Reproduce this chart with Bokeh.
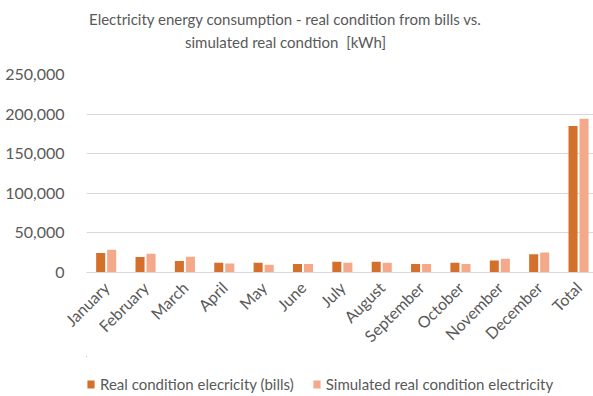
import math
from bokeh.plotting import figure
from bokeh.layouts import column
from bokeh.models import (ColumnDataSource, FixedTicker, NumeralTickFormatter, Legend, LegendItem,
                          Range1d, Label)
from bokeh.transform import dodge
from bokeh.embed import file_html
from bokeh.resources import INLINE

categories = ["January", "February", "March", "April", "May", "June", "July",
              "August", "September", "October", "November", "December", "Total"]
real_bills = [24500, 19500, 14400, 12200, 12200, 10600, 13500, 13500, 10600, 12200, 15200, 23200, 185000]
simulated = [28700, 23600, 19800, 11400, 9700, 10600, 12200, 12200, 10600, 10600, 17300, 25300, 194000]
y_ticks = [0, 50000, 100000, 150000, 200000, 250000]
title_lines = ["Electricity energy consumption - real condition from bills vs.",
               "simulated real condtion\u00a0 [kWh]"]
series_names = ["Real condition elecricity (bills)", "Simulated real condition electricity"]

FONT = "Lato"
GRAY = "#595959"
C_REAL = "#D5702C"
C_SIM = "#F3A98A"
W = 593
LEFT = 86

xs = list(range(len(categories)))
src = ColumnDataSource(dict(x=xs, real=real_bills, sim=simulated))

# ---- title strip (frame is aligned with the chart frame: canvas x 86..593) ----
TH = 56
tf = figure(width=W, height=TH, output_backend="svg", toolbar_location=None,
            x_range=Range1d(LEFT, W), y_range=Range1d(TH, 0),
            x_axis_type=None, y_axis_type=None, min_border=0)
tf.outline_line_color = None
tf.grid.visible = False
for txt, yy in zip(title_lines, [18, 41]):
    tf.add_layout(Label(x=285, y=yy, text=txt, text_align="center", text_baseline="middle",
                        text_font=FONT, text_font_size="15px", text_color=GRAY))

# ---- main chart ----
p = figure(width=W, height=300, output_backend="svg", toolbar_location=None,
           x_range=Range1d(-0.5, len(categories) - 0.5 - 0.12), y_range=Range1d(0, 250000),
           min_border_left=LEFT, min_border_right=0, min_border_top=18, min_border_bottom=84)
p.title = None

r1 = p.vbar(x=dodge("x", -0.14), top="real", width=0.23, source=src, fill_color=C_REAL, line_color=None)
r2 = p.vbar(x=dodge("x", 0.14), top="sim", width=0.23, source=src, fill_color=C_SIM, line_color=None)

p.yaxis.ticker = FixedTicker(ticks=y_ticks)
p.yaxis.formatter = NumeralTickFormatter(format="0,0")
p.yaxis.axis_line_color = None
p.yaxis.major_tick_line_color = None
p.yaxis.minor_tick_line_color = None
p.yaxis.major_label_text_font = FONT
p.yaxis.major_label_text_font_size = "16px"
p.yaxis.major_label_text_color = GRAY
p.yaxis.major_label_standoff = 16

p.xaxis.ticker = FixedTicker(ticks=xs)
p.xaxis.major_label_overrides = {i: c for i, c in enumerate(categories)}
p.xaxis.major_label_orientation = math.pi / 4
p.xaxis.axis_line_color = "#D9D9D9"
p.xaxis.major_tick_line_color = None
p.xaxis.minor_tick_line_color = None
p.xaxis.major_label_text_font = FONT
p.xaxis.major_label_text_font_size = "16px"
p.xaxis.major_label_text_color = GRAY
p.xaxis.major_label_standoff = 6

p.xgrid.grid_line_color = None
p.ygrid.grid_line_color = "#D9D9D9"
p.ygrid.ticker = FixedTicker(ticks=y_ticks)
p.outline_line_color = None

# ---- legend strip (same series; bars lie outside its view) ----
LH = 40
lf = figure(width=W, height=LH, output_backend="svg", toolbar_location=None,
            x_range=Range1d(LEFT, W), y_range=Range1d(-100, -60),
            x_axis_type=None, y_axis_type=None, min_border=0)
lf.outline_line_color = None
lf.grid.visible = False
l1 = lf.vbar(x="x", top="real", width=0.23, source=src, fill_color=C_REAL, line_color=None)
l2 = lf.vbar(x="x", top="sim", width=0.23, source=src, fill_color=C_SIM, line_color=None)
legend = Legend(items=[LegendItem(label=series_names[0], renderers=[l1]),
                       LegendItem(label=series_names[1], renderers=[l2])],
                orientation="horizontal", location=(0, 3),
                label_text_font=FONT, label_text_font_size="15px", label_text_color=GRAY,
                glyph_width=9, glyph_height=10, label_standoff=5, spacing=18,
                border_line_color=None, background_fill_alpha=0, padding=0, margin=0)
lf.add_layout(legend, "center")

layout = column(tf, p, lf, spacing=0)
open("out.html", "w").write(file_html(layout, INLINE))
